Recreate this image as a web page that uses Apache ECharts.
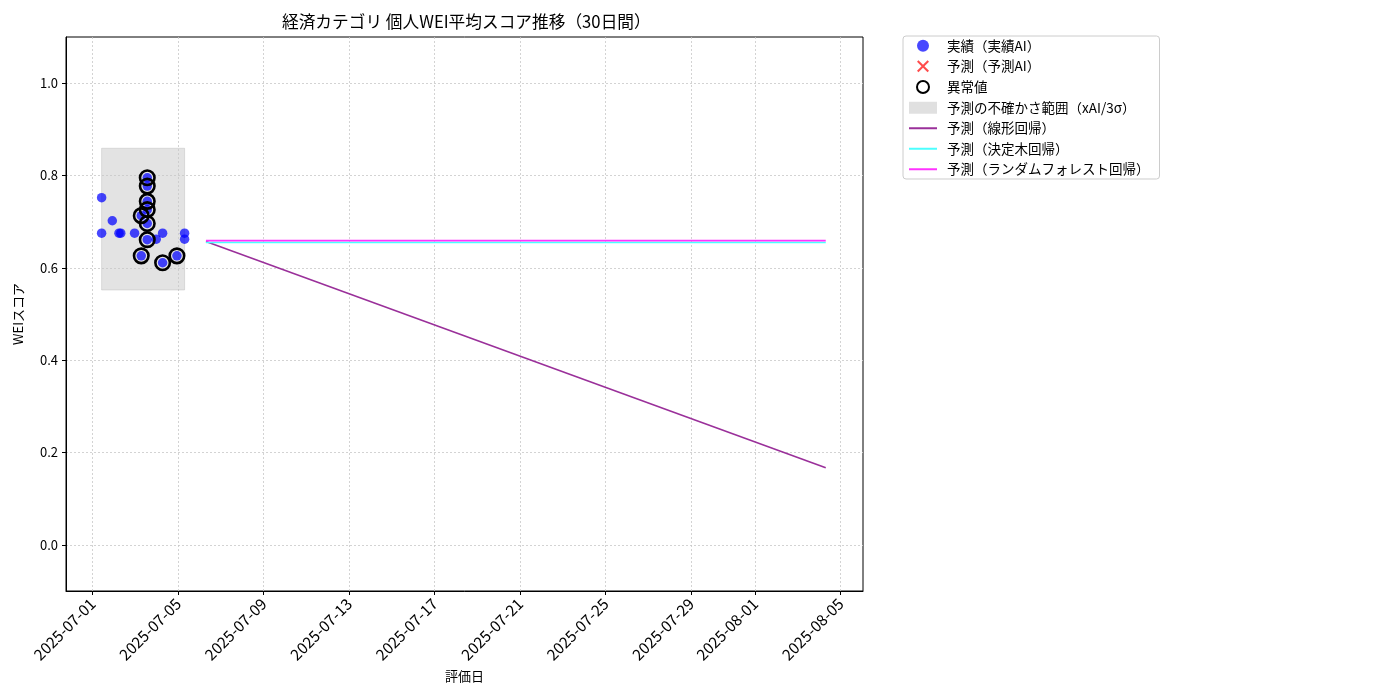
<!DOCTYPE html>
<html><head><meta charset="utf-8">
<script src="https://cdn.jsdelivr.net/npm/echarts@6/dist/echarts.min.js"></script>
<style>html,body{margin:0;padding:0;background:#fff}#c{width:1400px;height:700px}</style>
</head><body><div id="c"></div>
<script>
// ---- data (UTC timestamps) ----
const actualDates = ['2025-07-01T10:00:00Z','2025-07-01T10:00:00Z','2025-07-01T22:00:00Z','2025-07-02T05:30:00Z','2025-07-02T07:30:00Z','2025-07-02T23:00:00Z','2025-07-03T06:30:00Z','2025-07-03T06:30:00Z','2025-07-03T13:15:00Z','2025-07-03T13:15:00Z','2025-07-03T13:15:00Z','2025-07-03T13:15:00Z','2025-07-03T13:15:00Z','2025-07-03T13:15:00Z','2025-07-03T23:20:00Z','2025-07-04T06:30:00Z','2025-07-04T06:30:00Z','2025-07-04T22:35:00Z','2025-07-05T07:10:00Z','2025-07-05T07:10:00Z'];
const actualValues = [0.752,0.675,0.702,0.675,0.675,0.675,0.713,0.626,0.795,0.777,0.744,0.726,0.696,0.661,0.662,0.675,0.611,0.626,0.675,0.662];
const outlierDates = ['2025-07-03T06:30:00Z','2025-07-03T06:30:00Z','2025-07-03T13:15:00Z','2025-07-03T13:15:00Z','2025-07-03T13:15:00Z','2025-07-03T13:15:00Z','2025-07-03T13:15:00Z','2025-07-03T13:15:00Z','2025-07-04T06:30:00Z','2025-07-04T22:35:00Z'];
const outlierValues = [0.713,0.626,0.795,0.777,0.744,0.726,0.696,0.661,0.611,0.626];
const bandDates = ['2025-07-01T10:00:00Z','2025-07-05T07:10:00Z'];
const bandValues = [0.552,0.859];
const forecastDates = ['2025-07-06T07:10:00Z','2025-08-04T07:10:00Z'];
const linearValues = [0.657,0.167];
const treeValues = [0.655,0.655];
const forestValues = [0.659,0.659];
const xTickLabels = ['2025-07-01','2025-07-05','2025-07-09','2025-07-13','2025-07-17','2025-07-21','2025-07-25','2025-07-29','2025-08-01','2025-08-05'];
const yTickLabels = [0.0,0.2,0.4,0.6,0.8,1.0];

const ts = s => Date.parse(s);
const xTicks = xTickLabels.map(d => Date.parse(d + 'T00:00:00Z'));
const pad = n => (n < 10 ? '0' : '') + n;
const fmtDate = v => { const d = new Date(v); return d.getUTCFullYear() + '-' + pad(d.getUTCMonth()+1) + '-' + pad(d.getUTCDate()); };
const zip = (a, b) => a.map((x, i) => [ts(x), b[i]]);

const FONT = '"Noto Sans CJK JP", "DejaVu Sans", sans-serif';
const chart = echarts.init(document.getElementById('c'), null, {renderer: 'canvas'});
const XPATH = 'path://M0,1.2L1.2,0L5,3.8L8.8,0L10,1.2L6.2,5L10,8.8L8.8,10L5,6.2L1.2,10L0,8.8L3.8,5Z';

chart.setOption({
  animation: false,
  textStyle: {fontFamily: FONT, color: '#000'},
  title: {
    text: '経済カテゴリ 個人WEI平均スコア推移（30日間）',
    left: 277, top: 8,
    textStyle: {fontFamily: FONT, fontSize: 16.7, fontWeight: 'normal', color: '#000'}
  },
  grid: {left: 66, right: 537, top: 37, bottom: 109, show: true, borderColor: '#000', borderWidth: 1, backgroundColor: 'transparent'},
  legend: {
    left: 903, top: 36, orient: 'vertical',
    padding: [3, 10, 3, 5], itemGap: 7, itemWidth: 28, itemHeight: 12,
    borderColor: '#cccccc', borderWidth: 1, borderRadius: 3, backgroundColor: '#fff',
    textStyle: {fontFamily: FONT, fontSize: 13.5, color: '#000', padding: [0, 0, 0, 5]},
    data: [
      {name: '実績（実績AI）', icon: 'circle'},
      {name: '予測（予測AI）', icon: XPATH},
      {name: '異常値', icon: 'circle'},
      {name: '予測の不確かさ範囲（xAI/3σ）', icon: 'rect'},
      {name: '予測（線形回帰）', itemStyle: {opacity: 0}},
      {name: '予測（決定木回帰）', itemStyle: {opacity: 0}},
      {name: '予測（ランダムフォレスト回帰）', itemStyle: {opacity: 0}}
    ]
  },
  xAxis: {
    type: 'value',
    min: ts('2025-06-29T18:00:00Z'), max: ts('2025-08-06T01:00:00Z'),
    name: '評価日', nameLocation: 'middle', nameGap: 79,
    nameTextStyle: {fontFamily: FONT, fontSize: 13, color: '#000'},
    axisLine: {onZero: false, lineStyle: {color: '#000'}},
    axisTick: {show: true, length: 4, lineStyle: {color: '#000'}, customValues: xTicks},
    axisLabel: {customValues: xTicks, rotate: 45, fontSize: 15.5, color: '#000', fontFamily: FONT, margin: 10, formatter: v => fmtDate(v), hideOverlap: false},
    splitLine: {show: true, customValues: xTicks, lineStyle: {color: '#c8c8c8', type: [2, 2], width: 0.8}}
  },
  yAxis: {
    type: 'value', min: -0.1, max: 1.1,
    name: 'WEIスコア', nameLocation: 'middle', nameGap: 41, nameRotate: 90,
    nameTextStyle: {fontFamily: FONT, fontSize: 13, color: '#000'},
    axisLine: {show: true, onZero: false, lineStyle: {color: '#000'}},
    axisTick: {show: true, length: 4, lineStyle: {color: '#000'}, customValues: yTickLabels},
    axisLabel: {customValues: yTickLabels, fontSize: 13, color: '#000', fontFamily: FONT, margin: 8, formatter: v => v.toFixed(1)},
    splitLine: {show: true, customValues: yTickLabels, lineStyle: {color: '#c8c8c8', type: [2, 2], width: 0.8}}
  },
  series: [
    {
      name: '予測の不確かさ範囲（xAI/3σ）', type: 'line', data: [], symbol: 'none',
      itemStyle: {color: '#e0e0e0'}, lineStyle: {width: 0},
      markArea: {
        silent: true,
        itemStyle: {color: 'rgba(200,200,200,0.5)', borderColor: 'rgba(180,180,180,0.4)', borderWidth: 1},
        data: [[{xAxis: ts(bandDates[0]), yAxis: bandValues[0]}, {xAxis: ts(bandDates[1]), yAxis: bandValues[1]}]]
      },
      z: 1
    },
    {
      name: '実績（実績AI）', type: 'scatter', data: zip(actualDates, actualValues),
      symbol: 'circle', symbolSize: 9.5,
      itemStyle: {color: '#0000ff', opacity: 0.72}, z: 3
    },
    {
      name: '予測（予測AI）', type: 'scatter', data: [], symbol: XPATH, symbolSize: 12,
      itemStyle: {color: '#ff0000', opacity: 0.7}
    },
    {
      name: '異常値', type: 'scatter', data: zip(outlierDates, outlierValues),
      symbol: 'circle', symbolSize: 14.5,
      itemStyle: {color: 'rgba(0,0,0,0)', borderColor: '#000', borderWidth: 2.6, opacity: 1}, z: 4
    },
    {
      name: '予測（線形回帰）', type: 'line', data: zip(forecastDates, linearValues),
      symbol: 'none', itemStyle: {color: '#9a309a'}, lineStyle: {color: '#9a309a', width: 1.6}, z: 5
    },
    {
      name: '予測（決定木回帰）', type: 'line', data: zip(forecastDates, treeValues),
      symbol: 'none', itemStyle: {color: '#4cffff'}, lineStyle: {color: '#4cffff', width: 1.6}, z: 5
    },
    {
      name: '予測（ランダムフォレスト回帰）', type: 'line', data: zip(forecastDates, forestValues),
      symbol: 'none', itemStyle: {color: '#ff33ff'}, lineStyle: {color: '#ff33ff', width: 1.6}, z: 6
    }
  ]
});
</script></body></html>
